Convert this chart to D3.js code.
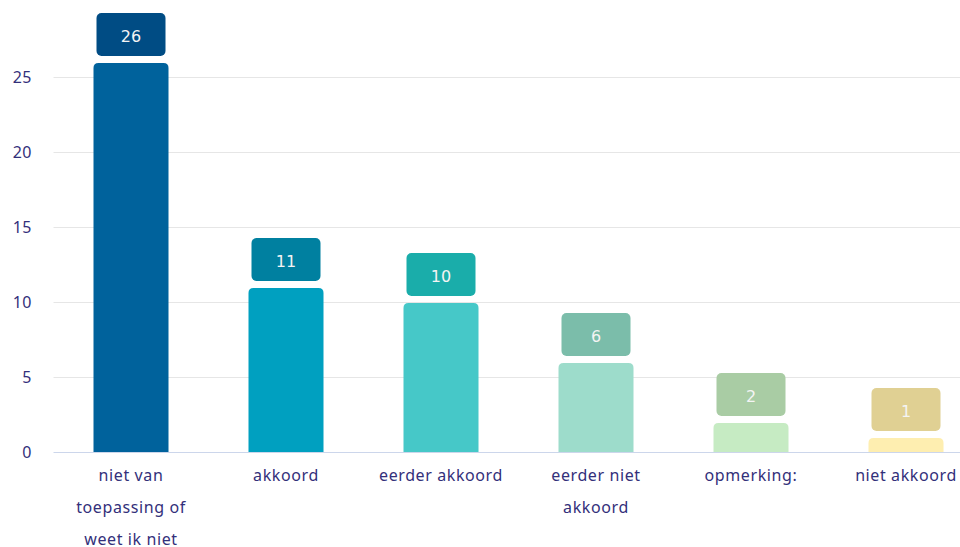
<!DOCTYPE html>
<html>
<head>
<meta charset="utf-8">
<script src="https://cdn.jsdelivr.net/npm/d3@7"></script>
<style>
  html, body { margin: 0; padding: 0; background: #fff; }
  svg { display: block; }
</style>
</head>
<body>
<svg id="chart" width="960" height="547"></svg>
<script>
const categories = [
  ["niet van", "toepassing of", "weet ik niet"],
  ["akkoord"],
  ["eerder akkoord"],
  ["eerder niet", "akkoord"],
  ["opmerking:"],
  ["niet akkoord"]
];
const values = [26, 11, 10, 6, 2, 1];
const yTicks = [0, 5, 10, 15, 20, 25];
const barColors = ["#00629c", "#00a0c0", "#46c8c8", "#9ddccb", "#c6ebc3", "#feeeb0"];
const boxColors = ["#004c84", "#0080a0", "#1aadaa", "#7bbdaa", "#a9cca4", "#e0d093"];

(function () {
const W = 960, H = 547;
const svg = d3.select("#chart");
const plotLeft = 53.5, plotRight = 983.5, plotBottom = 452;

const x = d3.scaleBand().domain(d3.range(values.length)).range([plotLeft, plotRight]).padding(0);
const y = d3.scaleLinear().domain([0, 30]).range([plotBottom, plotBottom - 30 * 15]);

const textColor = "#33307a";
const font = "'Noto Sans', 'Open Sans', sans-serif";

// gridlines
svg.append("g").selectAll("line").data(yTicks.filter(t => t > 0)).join("line")
  .attr("x1", plotLeft).attr("x2", W)
  .attr("y1", d => Math.round(y(d)) + 0.5).attr("y2", d => Math.round(y(d)) + 0.5)
  .attr("stroke", "#e6e6e6").attr("stroke-width", 1);

// y axis labels
svg.append("g").selectAll("text").data(yTicks).join("text")
  .attr("x", 32).attr("y", d => y(d) + 6)
  .attr("text-anchor", "end")
  .attr("font-family", font)
  .attr("font-size", 16)
  .attr("letter-spacing", 0.5)
  .attr("fill", textColor)
  .text(d => d);

const barW = 75;
const r = 5;
function topRounded(x0, y0, w, h, rr) {
  rr = Math.min(rr, h, w / 2);
  return `M${x0},${y0 + h} V${y0 + rr} Q${x0},${y0} ${x0 + rr},${y0} H${x0 + w - rr} Q${x0 + w},${y0} ${x0 + w},${y0 + rr} V${y0 + h} Z`;
}

// bars
svg.append("g").selectAll("path").data(values).join("path")
  .attr("d", (d, i) => {
    const cx = x(i) + x.bandwidth() / 2;
    const y0 = y(d) + 1;
    return topRounded(cx - barW / 2, y0, barW, plotBottom - y0, r);
  })
  .attr("fill", (d, i) => barColors[i]);

// axis line
svg.append("line").attr("x1", plotLeft).attr("x2", W)
  .attr("y1", plotBottom + 0.5).attr("y2", plotBottom + 0.5)
  .attr("stroke", "#ccd6eb").attr("stroke-width", 1);

// data label boxes
const boxW = 69, boxH = 43;
const lbl = svg.append("g").selectAll("g").data(values).join("g")
  .attr("transform", (d, i) => `translate(${x(i) + x.bandwidth() / 2},${y(d) - 6 - boxH})`);
lbl.append("rect")
  .attr("x", -boxW / 2).attr("y", 0).attr("width", boxW).attr("height", boxH)
  .attr("rx", 5).attr("ry", 5)
  .attr("fill", (d, i) => boxColors[i]);
lbl.append("text")
  .attr("x", 0).attr("y", boxH / 2 + 7)
  .attr("text-anchor", "middle")
  .attr("font-family", "'DejaVu Sans', sans-serif")
  .attr("font-size", 16)
  .attr("fill", "#f4f4f4")
  .text(d => d);

// category labels
const cat = svg.append("g").selectAll("text").data(categories).join("text")
  .attr("text-anchor", "middle")
  .attr("font-family", font)
  .attr("font-size", 16)
  .attr("letter-spacing", 0.6)
  .attr("fill", textColor);
cat.selectAll("tspan").data((d, i) => d.map(s => ({ s, i }))).join("tspan")
  .attr("x", d => x(d.i) + x.bandwidth() / 2)
  .attr("y", (d, j) => 481 + j * 32)
  .text(d => d.s);
})();
</script>
</body>
</html>
